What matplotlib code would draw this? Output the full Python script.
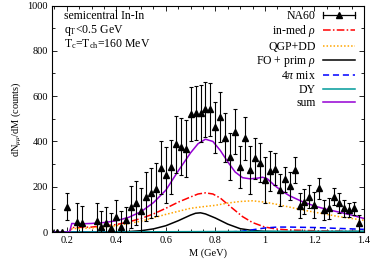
import numpy as np
import matplotlib
matplotlib.use("Agg")
import matplotlib.pyplot as plt
from matplotlib.lines import Line2D
from matplotlib.legend_handler import HandlerBase

# NA60 data points
na60_m = [0.14, 0.16, 0.18, 0.20, 0.24, 0.26, 0.32, 0.34, 0.36, 0.38,
          0.40, 0.42, 0.44, 0.46, 0.48, 0.50, 0.52, 0.54, 0.56, 0.58,
          0.60, 0.62, 0.64, 0.66, 0.68, 0.70, 0.72, 0.74, 0.76, 0.78,
          0.80, 0.82, 0.84, 0.86, 0.88, 0.90, 0.92, 0.94, 0.96, 0.98,
          1.00, 1.02, 1.04, 1.06, 1.08, 1.10, 1.12, 1.14, 1.16, 1.18,
          1.20, 1.22, 1.24, 1.26, 1.28, 1.30, 1.32, 1.34, 1.36, 1.38]
na60_y = [0, 0, 0, 112, 45, 41, 50, 21, 38, 16,
          65, 21, 52, 110, 128, 94, 156, 174, 188, 284,
          252, 288, 387, 377, 368, 521, 527, 524, 542, 542,
          462, 509, 416, 332, 443, 288, 415, 274, 325, 306,
          230, 271, 277, 185, 233, 203, 274, 117, 134, 156,
          119, 193, 97, 104, 156, 127, 104, 97, 104, 38]
na60_err = [0, 0, 0, 60, 84, 75, 77, 73, 74, 66,
            76, 73, 60, 94, 97, 99, 108, 110, 115, 118,
            125, 118, 125, 125, 125, 121, 119, 125, 122, 117,
            113, 110, 108, 104, 99, 92, 95, 105, 89, 86,
            100, 88, 70, 71, 55, 63, 58, 57, 54, 51,
            59, 47, 44, 45, 37, 44, 37, 30, 30, 37]

# model curves
sum_m = [0.14, 0.211, 0.22, 0.25, 0.30, 0.35, 0.40, 0.45, 0.50, 0.55, 0.60,
         0.65, 0.70, 0.73, 0.76, 0.79, 0.82, 0.85, 0.88, 0.91, 0.94, 0.97,
         0.99, 1.01, 1.04, 1.07, 1.10, 1.15, 1.20, 1.25, 1.30, 1.35, 1.40]
sum_y = [0, 0, 38, 36, 38, 42, 50, 65, 90, 130, 185,
         270, 350, 390, 410, 400, 360, 310, 265, 240, 235, 238,
         242, 235, 205, 180, 160, 135, 115, 100, 88, 75, 60]

rho_m = [0.14, 0.211, 0.22, 0.30, 0.40, 0.45, 0.50, 0.55, 0.60, 0.65, 0.70,
         0.73, 0.76, 0.79, 0.82, 0.85, 0.88, 0.91, 0.95, 1.00, 1.05, 1.10,
         1.20, 1.30, 1.40]
rho_y = [0, 0, 20, 22, 33, 45, 60, 80, 105, 132, 155,
         168, 173, 168, 150, 122, 95, 68, 42, 22, 13, 9,
         6, 4, 3]

qgp_m = [0.14, 0.211, 0.22, 0.30, 0.40, 0.50, 0.60, 0.70, 0.75, 0.80, 0.85,
         0.90, 0.95, 1.00, 1.05, 1.10, 1.15, 1.20, 1.25, 1.30, 1.35, 1.40]
qgp_y = [0, 0, 15, 18, 28, 48, 78, 105, 112, 118, 128,
         135, 138, 132, 122, 110, 98, 88, 78, 68, 60, 52]

fo_m = [0.14, 0.40, 0.45, 0.50, 0.55, 0.60, 0.65, 0.70, 0.72, 0.74, 0.76,
        0.80, 0.85, 0.90, 0.95, 1.00, 1.10, 1.40]
fo_y = [0, 0, 2, 6, 14, 28, 50, 75, 83, 85, 80,
        62, 35, 15, 7, 3, 1, 0]

mix_m = [0.14, 0.85, 0.90, 0.95, 1.00, 1.05, 1.10, 1.20, 1.30, 1.40]
mix_y = [0, 0, 3, 10, 18, 22, 22, 20, 16, 12]

dy_m = [0.14, 0.211, 0.50, 1.00, 1.40]
dy_y = [0, 0, 1, 3, 4]


class HandlerNA60(HandlerBase):
    # gnuplot style key: horizontal bar with caps and a triangle
    def create_artists(self, legend, orig_handle, xdescent, ydescent,
                       width, height, fontsize, trans):
        yc = height / 2 - ydescent
        x0, x1 = -xdescent, width - xdescent
        bar = Line2D([x0, x1], [yc, yc], color='black', lw=0.9, transform=trans)
        c1 = Line2D([x0, x0], [yc - 2, yc + 2], color='black', lw=0.9, transform=trans)
        c2 = Line2D([x1, x1], [yc - 2, yc + 2], color='black', lw=0.9, transform=trans)
        mk = Line2D([(x0 + x1) / 2], [yc], marker='^', ms=5, color='black',
                    ls='none', transform=trans)
        return [bar, c1, c2, mk]


plt.rcParams['font.family'] = ['Liberation Serif', 'DejaVu Serif']
plt.rcParams['mathtext.fontset'] = 'custom'
plt.rcParams['mathtext.rm'] = 'Liberation Serif'
plt.rcParams['mathtext.it'] = 'Liberation Serif:italic'

fig = plt.figure(figsize=(3.74, 2.64), dpi=100)
ax = fig.add_axes([0.139, 0.121, 0.834, 0.858])

lw = 1.1
fs = 8.5
ax.errorbar(na60_m, na60_y, yerr=na60_err, fmt='^', color='black', ms=5,
            elinewidth=0.8, capsize=1.6, capthick=0.8, zorder=5)
l_rho, = ax.plot(rho_m, rho_y, color='#ff0000', lw=lw, dashes=[5, 1.5, 1, 1.5])
l_qgp, = ax.plot(qgp_m, qgp_y, color='#ffa500', lw=lw, ls=(0, (1, 1.3)))
l_fo, = ax.plot(fo_m, fo_y, color='black', lw=lw)
l_mix, = ax.plot(mix_m, mix_y, color='#0000ff', lw=lw, dashes=[4, 2.5])
l_dy, = ax.plot(dy_m, dy_y, color='#009a9a', lw=lw)
l_sum, = ax.plot(sum_m, sum_y, color='#9400d3', lw=lw)

ax.set_xlim(0.14, 1.4)
ax.set_ylim(0, 1000)
ax.set_xticks([0.2, 0.4, 0.6, 0.8, 1.0, 1.2, 1.4])
ax.set_xticklabels(['0.2', '0.4', '0.6', '0.8', '1', '1.2', '1.4'])
ax.set_xticks(np.arange(0.15, 1.41, 0.05), minor=True)
ax.set_yticks([0, 200, 400, 600, 800, 1000])
ax.set_yticks(np.arange(100, 1000, 200), minor=True)
ax.tick_params(which='both', direction='in', top=True, right=True,
               labelsize=7.5, pad=3, width=0.6)
ax.tick_params(which='major', length=3.5)
ax.tick_params(which='minor', length=2)
for s in ax.spines.values():
    s.set_linewidth(0.8)

ax.set_xlabel('M (GeV)', fontsize=7.5, labelpad=2)
ax.set_ylabel(r'dN$_{\mu\mu}$/dM (counts)', fontsize=7.5, labelpad=3)

ax.text(0.04, 0.982, 'semicentral In-In', transform=ax.transAxes,
        fontsize=fs, va='top')
ax.text(0.04, 0.922, r'q$_\mathrm{T}$<0.5 GeV', transform=ax.transAxes,
        fontsize=fs, va='top')
ax.text(0.04, 0.862, r'T$_\mathrm{c}$=T$_\mathrm{ch}$=160 MeV', transform=ax.transAxes,
        fontsize=fs, va='top')

na60_handle = Line2D([], [], color='black')
ax.legend([na60_handle, l_rho, l_qgp, l_fo, l_mix, l_dy, l_sum],
          ['NA60', r'in-med $\rho$', 'QGP+DD', r'FO + prim $\rho$',
           r'4$\pi$ mix', 'DY', 'sum'],
          handler_map={na60_handle: HandlerNA60()},
          loc='upper right', bbox_to_anchor=(0.978, 0.99), frameon=False,
          markerfirst=False, fontsize=fs, handlelength=2.7,
          handletextpad=0.6, labelspacing=0.11, borderpad=0.2,
          borderaxespad=0)

fig.savefig('out.png', dpi=100)
